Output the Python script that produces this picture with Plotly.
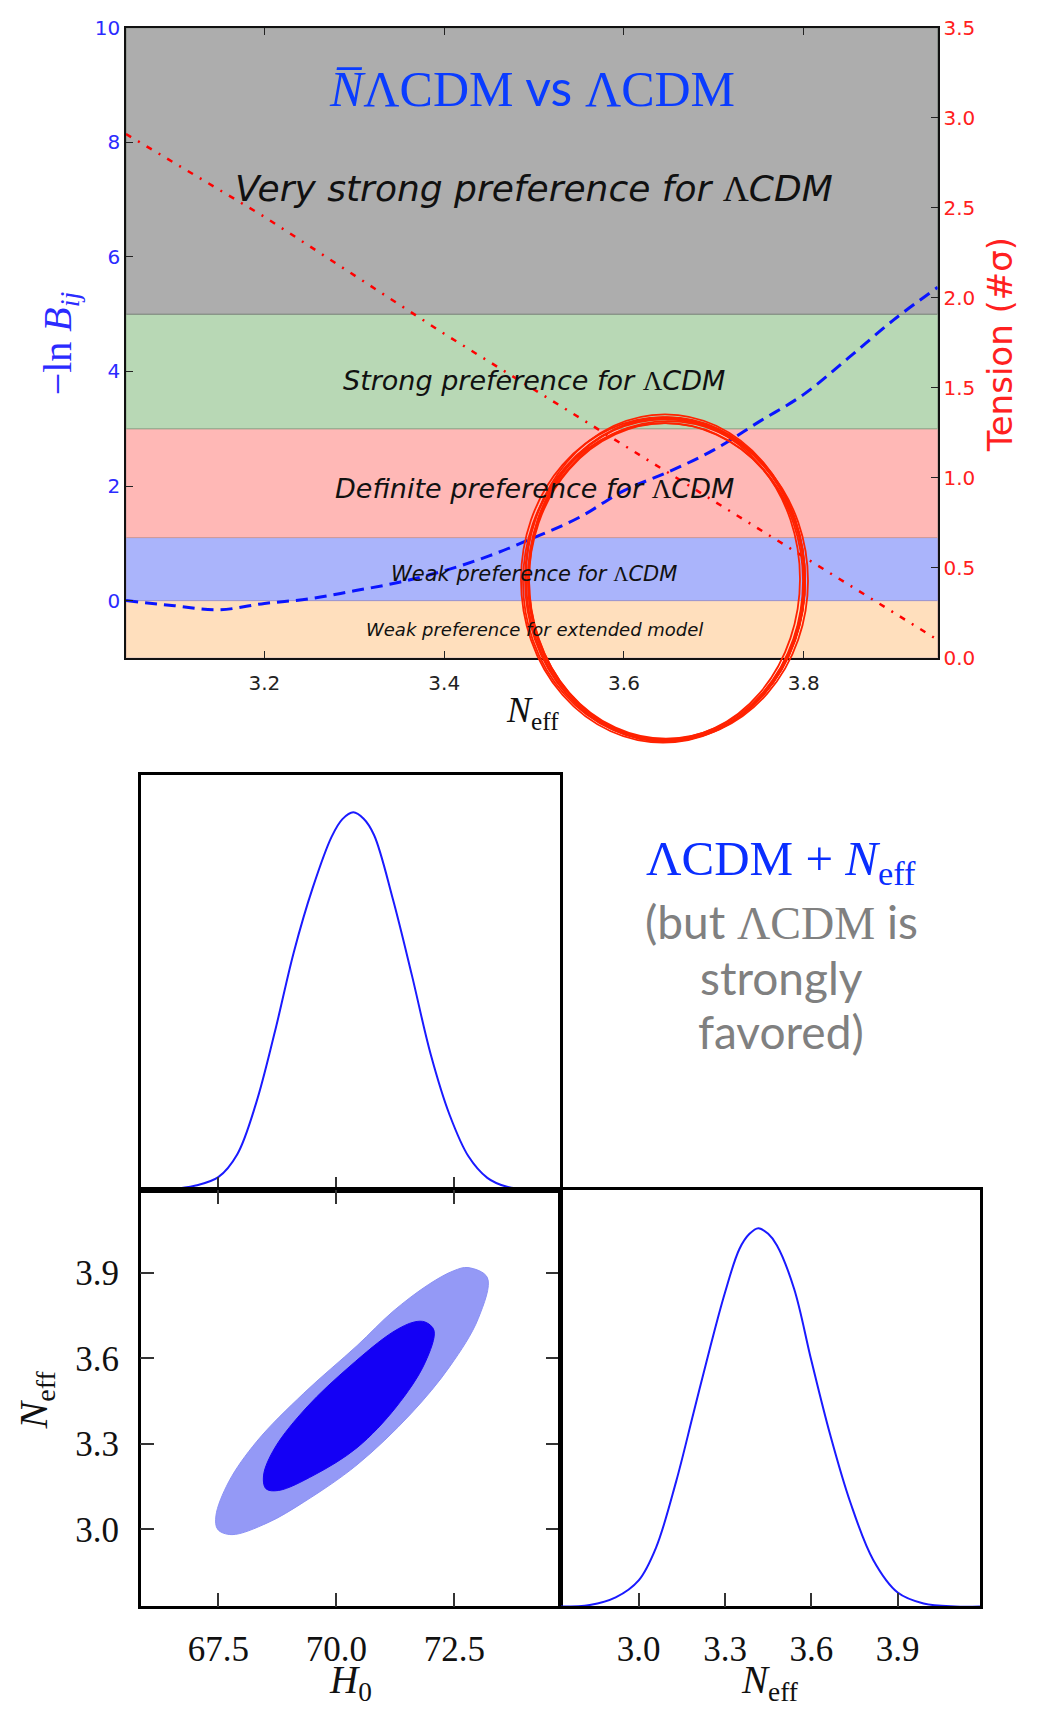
import plotly.graph_objects as go

# ---------------- data ----------------
# top panel: Bayes factor and tension vs N_eff
neff_grid = [3.046, 3.10, 3.15, 3.20, 3.25, 3.30, 3.35, 3.40, 3.45, 3.50,
             3.55, 3.60, 3.65, 3.70, 3.75, 3.80, 3.85, 3.90, 3.949]
minus_lnB = [0.0, -0.09, -0.16, -0.05, 0.03, 0.17, 0.32, 0.52, 0.78, 1.10,
             1.45, 1.92, 2.25, 2.63, 3.12, 3.60, 4.24, 4.90, 5.47]
tension_neff = [3.046, 3.20, 3.40, 3.60, 3.80, 3.949]
tension_sigma = [2.91, 2.45, 1.80, 1.18, 0.56, 0.10]

band_edges = [-1.0, 0.0, 1.1, 3.0, 5.0, 10.0]
band_fill = ["#ffdfbd", "#aab4fb", "#ffb8b6", "#b8d8b5", "#adadad"]
band_line = ["#d8b0a0", "#9c96d0", "#d09a98", "#8ea88a", "#7d867d"]
band_labels = ["Weak preference for extended model", "Weak preference for ",
               "Definite preference for ", "Strong preference for ",
               "Very strong preference for "]
band_label_suffix = ["", "ΛCDM", "ΛCDM", "ΛCDM", "ΛCDM"]
band_label_y = [-0.5, 0.46, 1.95, 3.84, 7.19]
band_label_size = [18, 21, 27, 27, 36]

top_xticks = [3.2, 3.4, 3.6, 3.8]
left_yticks = [0, 2, 4, 6, 8, 10]
right_yticks = [0.0, 0.5, 1.0, 1.5, 2.0, 2.5, 3.0, 3.5]

# corner plot: 1D marginals
h0_pts = [65.86, 66.5, 67.0, 67.5, 67.9, 68.3, 68.7, 69.1, 69.5, 69.9, 70.13, 70.36,
          70.58, 70.8, 71.2, 71.6, 72.0, 72.4, 72.8, 73.2, 73.6, 74.1, 74.74]
h0_pdf = [0.0, 0.003, 0.012, 0.035, 0.095, 0.23, 0.42, 0.63, 0.80, 0.935, 0.982, 1.0,
          0.983, 0.94, 0.77, 0.57, 0.36, 0.20, 0.09, 0.033, 0.010, 0.002, 0.0]
neff_pts = [2.729, 2.83, 2.92, 3.00, 3.06, 3.13, 3.19, 3.25, 3.30, 3.35, 3.385, 3.416,
            3.45, 3.48, 3.54, 3.60, 3.665, 3.735, 3.815, 3.90, 3.99, 4.10, 4.186]
neff_pdf = [0.0, 0.004, 0.024, 0.069, 0.155, 0.33, 0.51, 0.69, 0.83, 0.945, 0.985, 1.0,
            0.985, 0.955, 0.84, 0.65, 0.455, 0.276, 0.123, 0.037, 0.008, 0.0, 0.0]

# corner plot: 2D contours (H0, Neff)
outer_h0 = [72.79, 73.20, 73.01, 72.41, 71.58, 70.44, 69.31, 68.55, 67.79, 67.49,
            67.45, 67.72, 68.32, 69.31, 70.44, 71.20, 71.96, 72.49, 72.79]
outer_ne = [3.919, 3.884, 3.741, 3.573, 3.406, 3.227, 3.096, 3.024, 2.982, 3.000,
            3.048, 3.167, 3.310, 3.478, 3.645, 3.765, 3.860, 3.908, 3.919]
inner_h0 = [71.88, 72.07, 71.88, 71.27, 70.44, 69.53, 68.78, 68.51, 68.46, 68.70,
            69.38, 70.29, 71.20, 71.65, 71.88]
inner_ne = [3.728, 3.699, 3.585, 3.430, 3.287, 3.191, 3.137, 3.143, 3.191, 3.287,
            3.430, 3.573, 3.693, 3.728, 3.728]

h0_ticks = [67.5, 70.0, 72.5]
neff_ticks = [3.0, 3.3, 3.6, 3.9]

# ---------------- layout helpers ----------------
W, H = 1038, 1721
def fx(p):
    return p / W
def fy(p):
    return 1 - p / H

BLUE_T = "#2b2bff"
RED_T = "#ff2020"
SERIF = "Liberation Serif, Times New Roman, serif"
SANS = "DejaVu Sans, sans-serif"
HUMAN = "Lato, Open Sans, sans-serif"

fig = go.Figure()

fig.add_trace(go.Scatter(x=neff_grid, y=minus_lnB, mode="lines", line_shape="spline",
                         line=dict(color="#0a14ff", width=3, dash="12px,7px"),
                         xaxis="x", yaxis="y", showlegend=False, hoverinfo="skip"))
fig.add_trace(go.Scatter(x=tension_neff, y=tension_sigma, mode="lines",
                         line=dict(color="#ff0000", width=2.5, dash="6px,8px,2px,8px"),
                         xaxis="x", yaxis="y2", showlegend=False, hoverinfo="skip"))

fig.add_trace(go.Scatter(x=h0_pts, y=h0_pdf, mode="lines", line_shape="spline",
                         line=dict(color="#1a1aff", width=2),
                         xaxis="x2", yaxis="y3", showlegend=False, hoverinfo="skip"))
fig.add_trace(go.Scatter(x=outer_h0, y=outer_ne, mode="lines", line_shape="spline",
                         fill="toself", fillcolor="#9499f6",
                         line=dict(color="#8a90f4", width=1),
                         xaxis="x3", yaxis="y4", showlegend=False, hoverinfo="skip"))
fig.add_trace(go.Scatter(x=inner_h0, y=inner_ne, mode="lines", line_shape="spline",
                         fill="toself", fillcolor="#1400f5",
                         line=dict(color="#1400f5", width=1),
                         xaxis="x3", yaxis="y4", showlegend=False, hoverinfo="skip"))
fig.add_trace(go.Scatter(x=neff_pts, y=neff_pdf, mode="lines", line_shape="spline",
                         line=dict(color="#1a1aff", width=2),
                         xaxis="x4", yaxis="y5", showlegend=False, hoverinfo="skip"))

shapes = []
for i in range(len(band_fill)):
    shapes.append(dict(type="rect", xref="x domain", yref="y", x0=0, x1=1,
                       y0=band_edges[i], y1=band_edges[i + 1],
                       fillcolor=band_fill[i], line=dict(color=band_line[i], width=1),
                       layer="below"))

# hand-drawn red circle (several slightly offset strokes)
cx, cy, rx, ry = 665, 576, 140, 163
for dx, dy, dr1, dr2 in [(0, 0, 0, 0), (2, -1, -2, 1), (-1, 2, 1, -2), (1, 1, -3, -3),
                         (-2, 0, 2, 2), (0, -2, -1, 3), (3, 1, 0, -1), (-1, -1, -4, 0)]:
    shapes.append(dict(type="circle", xref="paper", yref="paper",
                       x0=fx(cx + dx - rx - dr1), x1=fx(cx + dx + rx + dr1),
                       y0=fy(cy + dy + ry + dr2), y1=fy(cy + dy - ry - dr2),
                       line=dict(color="#ff2200", width=1.8), layer="above"))

def pann(x, y, text, font, angle=0, align="center", yanchor="middle"):
    return dict(x=fx(x), y=fy(y), xref="paper", yref="paper", showarrow=False,
                xanchor="center", yanchor=yanchor, textangle=angle, align=align,
                text=text, font=font)

annotations = []
annotations.append(pann(532, 76,
                        "<i>N̅</i>ΛCDM<span style='font-family:Lato'> vs </span>ΛCDM",
                        dict(family=SERIF, size=50, color="#0a3cff")))
for lab, suf, yy, sz in zip(band_labels, band_label_suffix, band_label_y, band_label_size):
    txt = "<i>" + lab + "</i>"
    if suf:
        txt += "<span style='font-family:Liberation Serif'>" + suf[0] + "</span><i>" + suf[1:] + "</i>"
    annotations.append(dict(x=3.5, y=yy, xref="x", yref="y", showarrow=False,
                            xanchor="center", yanchor="middle", text=txt,
                            font=dict(family=SANS, size=sz, color="#111111")))
annotations.append(pann(60, 336, "−ln <i>B</i><sub><i>ij</i></sub>",
                        dict(family=SERIF, size=40, color=BLUE_T), -90))
annotations.append(pann(1000, 338, "Tension (#σ)",
                        dict(family=SANS, size=34, color=RED_T), -90))
annotations.append(pann(532, 710, "<i>N</i><sub>eff</sub>",
                        dict(family=SERIF, size=36, color="#111111")))
annotations.append(pann(350, 1721, "<i>H</i><sub>0</sub>",
                        dict(family=SERIF, size=39, color="#111111"), yanchor="bottom"))
annotations.append(pann(770, 1721, "<i>N</i><sub>eff</sub>",
                        dict(family=SERIF, size=39, color="#111111"), yanchor="bottom"))
annotations.append(pann(36, 1407, "<i>N</i><sub>eff</sub>",
                        dict(family=SERIF, size=40, color="#111111"), -90))
annotations.append(pann(781, 862, "ΛCDM + <i>N</i><sub>eff</sub>",
                        dict(family=SERIF, size=49, color="#0a2eff")))
annotations.append(pann(781, 922,
                        "(but <span style='font-family:Liberation Serif'>ΛCDM</span> is",
                        dict(family=HUMAN, size=46, color="#808080")))
annotations.append(pann(781, 979, "strongly",
                        dict(family=HUMAN, size=46, color="#808080")))
annotations.append(pann(781, 1034, "favored)",
                        dict(family=HUMAN, size=46, color="#808080")))

tick_common = dict(showgrid=False, zeroline=False)

fig.update_layout(
    width=W, height=H, margin=dict(l=0, r=0, t=0, b=0),
    paper_bgcolor="white", plot_bgcolor="rgba(0,0,0,0)",
    showlegend=False, shapes=shapes, annotations=annotations,
    xaxis=dict(domain=[fx(126), fx(937.7)], range=[3.046, 3.949], anchor="y",
               tickvals=top_xticks, ticktext=["%.1f" % v for v in top_xticks],
               ticks="inside", ticklen=7, tickcolor="#222", mirror="ticks",
               showline=True, linecolor="#111", linewidth=1.5,
               tickfont=dict(family=SANS, size=20, color="#222"),
               ticklabelstandoff=6, **tick_common),
    yaxis=dict(domain=[fy(655), fy(16)], range=[-1, 10], anchor="x",
               tickvals=left_yticks, ticktext=[str(v) for v in left_yticks],
               ticks="inside", ticklen=7, tickcolor="#222",
               showline=True, linecolor="#111", linewidth=1.5,
               tickfont=dict(family=SANS, size=20, color=BLUE_T), **tick_common),
    yaxis2=dict(overlaying="y", side="right", anchor="x", range=[0, 3.5],
                tickvals=right_yticks, ticktext=["%.1f" % v for v in right_yticks],
                ticks="inside", ticklen=7, tickcolor="#222",
                showline=True, linecolor="#111", linewidth=1.5,
                tickfont=dict(family=SANS, size=20, color=RED_T), **tick_common),
    xaxis2=dict(domain=[fx(140.7), fx(560)], range=[65.856, 74.74], anchor="y3",
                tickvals=h0_ticks, showticklabels=False, ticks="inside", ticklen=14,
                tickwidth=1.5, tickcolor="#333", showline=True, mirror=True,
                linecolor="black", linewidth=2.5, **tick_common),
    yaxis3=dict(domain=[fy(1195), fy(773.3)], range=[0, 1.1], anchor="x2",
                showticklabels=False, ticks="", showline=True, mirror=True,
                linecolor="black", linewidth=2.5, **tick_common),
    xaxis3=dict(domain=[fx(140.7), fx(560)], range=[65.856, 74.74], anchor="y4",
                tickvals=h0_ticks, ticktext=["%.1f" % v for v in h0_ticks],
                ticks="inside", ticklen=14, tickwidth=1.5, tickcolor="#333",
                mirror="ticks", showline=True, linecolor="black", linewidth=2.5,
                tickfont=dict(family=SERIF, size=35, color="#111"),
                ticklabelstandoff=10, **tick_common),
    yaxis4=dict(domain=[fy(1617), fy(1195)], range=[2.73, 4.19], anchor="x3",
                tickvals=neff_ticks, ticktext=["%.1f" % v for v in neff_ticks],
                ticks="inside", ticklen=14, tickwidth=1.5, tickcolor="#333",
                mirror="ticks", showline=True, linecolor="black", linewidth=2.5,
                tickfont=dict(family=SERIF, size=35, color="#111"),
                ticklabelstandoff=12, **tick_common),
    xaxis4=dict(domain=[fx(560.7), fx(980)], range=[2.729, 4.186], anchor="y5",
                tickvals=neff_ticks, ticktext=["%.1f" % v for v in neff_ticks],
                ticks="inside", ticklen=14, tickwidth=1.5, tickcolor="#333",
                showline=True, mirror=True, linecolor="black", linewidth=2.5,
                tickfont=dict(family=SERIF, size=35, color="#111"),
                ticklabelstandoff=10, **tick_common),
    yaxis5=dict(domain=[fy(1617), fy(1195)], range=[0, 1.1], anchor="x4",
                showticklabels=False, ticks="", showline=True, mirror=True,
                linecolor="black", linewidth=2.5, **tick_common),
)

fig.write_html("out.html")
